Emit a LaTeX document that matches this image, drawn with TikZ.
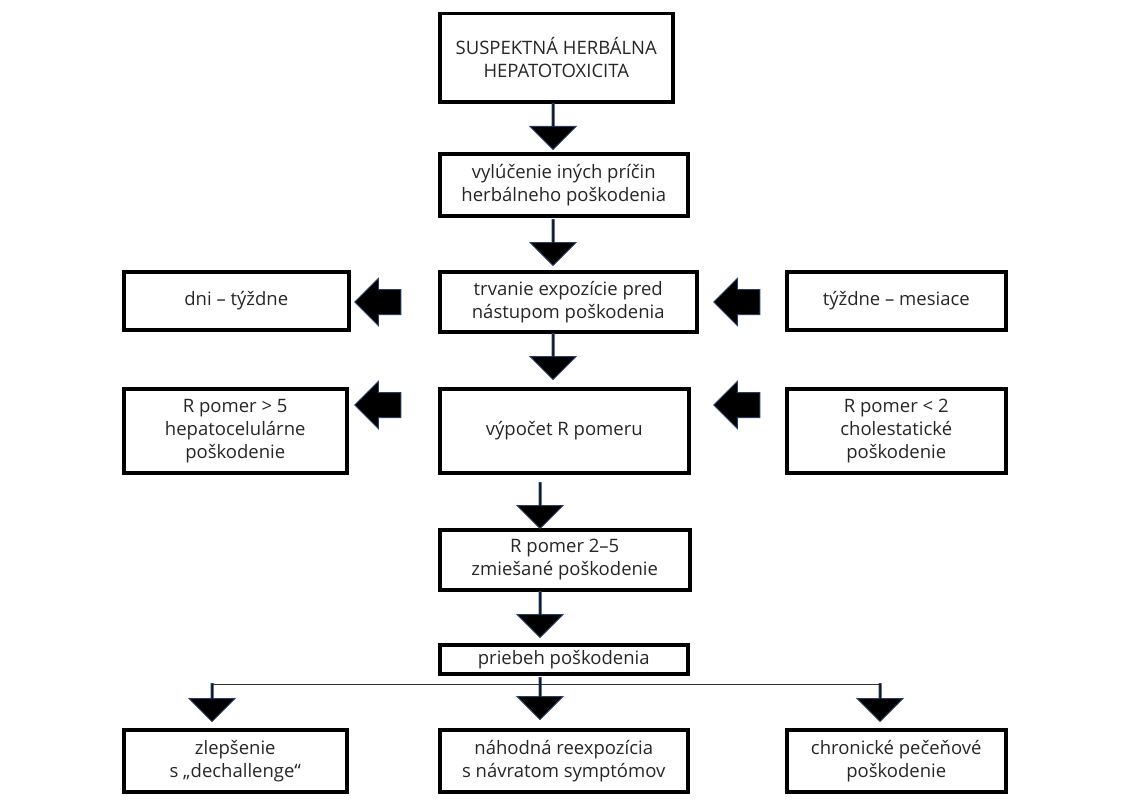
\documentclass[tikz,border=0pt]{standalone}
\usepackage{fontspec}
\setmainfont{Open Sans}
\usetikzlibrary{shapes.arrows}
\definecolor{arrowline}{RGB}{40,60,100}
\tikzset{
  box/.style={draw, line width=3.5pt, align=center, inner sep=0pt, anchor=north west},
  blk/.style={single arrow, fill=black, draw=arrowline, line width=1pt,
    inner xsep=0pt, inner ysep=12pt, single arrow head extend=11pt, single arrow tip angle=90,
    minimum width=46pt, minimum height=46pt},
  down/.style={blk, shape border rotate=270},
  left/.style={blk, shape border rotate=180},
}
\newcommand{\bx}[6]{\node[box, minimum width=#4-#2, minimum height=#5-#3] (#1) at (#2,#3) {#6};}
\begin{document}
\begin{tikzpicture}[x=1pt, y=-1pt, font=\fontsize{18.5}{23}\selectfont\color{black!85}]
  \useasboundingbox (0,0) rectangle (1133,800);
  % main column
  \bx{top}{438}{12}{671}{100}{SUSPEKTNÁ HERBÁLNA\\HEPATOTOXICITA}
  \bx{excl}{438}{152}{686}{214}{vylúčenie iných príčin\\herbálneho poškodenia}
  \bx{dur}{438}{270}{695}{330}{trvanie expozície pred\\nástupom poškodenia}
  \bx{calc}{438}{387}{687}{471}{výpočet R pomeru}
  \bx{mix}{438}{528}{688}{588}{R pomer 2–5\\zmiešané poškodenie}
  \bx{course}{438}{643}{686}{672}{priebeh poškodenia}
  % side boxes
  \bx{days}{122}{270}{347}{328}{dni – týždne}
  \bx{weeks}{785}{270}{1004}{328}{týždne – mesiace}
  \bx{hep}{122}{387}{345}{471}{R pomer > 5\\hepatocelulárne\\poškodenie}
  \bx{chol}{785}{387}{1004}{471}{R pomer < 2\\cholestatické\\poškodenie}
  % outcomes
  \bx{dech}{122}{728}{345}{790}{zlepšenie\\s „dechallenge“}
  \bx{reexp}{438}{728}{686}{790}{náhodná reexpozícia\\s návratom symptómov}
  \bx{chron}{785}{728}{1004}{790}{chronické pečeňové\\poškodenie}
  % block arrows
  \node[down] (a1) at (553,126) {};
  \node[down] (a2) at (553,242) {};
  \node[down] (a3) at (553,356) {};
  \node[down] (a4) at (540,505) {};
  \node[down] (a5) at (540,614) {};
  \node[left] (l1) at (384,302) {};
  \node[left] (r1) at (743,302) {};
  \node[left] (l2) at (384,405) {};
  \node[left] (r2) at (743,405) {};
  \coordinate (split l) at (212,684);
  \coordinate (split r) at (880,684);
  \draw[line width=0.8pt, black!80] (split l) -- (split r);
  \node[down, minimum height=38pt] (b1) at (212,702) {};
  \node[down, minimum height=42pt] (b2) at (540,698) {};
  \node[down, minimum height=38pt] (b3) at (880,702) {};
\end{tikzpicture}
\end{document}
